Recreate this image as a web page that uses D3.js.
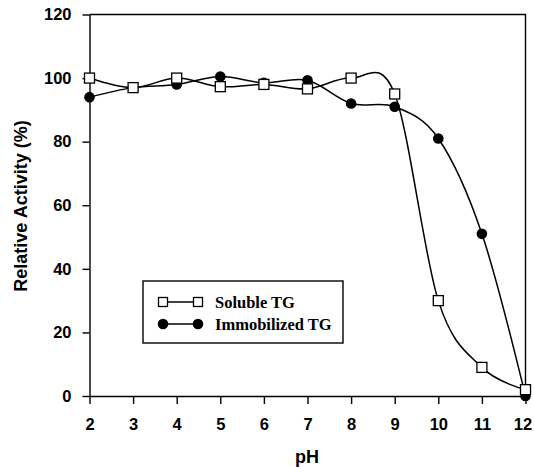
<!DOCTYPE html>
<html>
<head>
<meta charset="utf-8">
<script src="https://cdn.jsdelivr.net/npm/d3@7"></script>
<style>
  html, body { margin: 0; padding: 0; background: #fff; }
  svg { display: block; }
  .axis text { font-family: "Liberation Sans", Arial, sans-serif; font-size: 16.5px; font-weight: bold; fill: #000; }
  .axis path, .axis line { stroke: #000; stroke-width: 1.4; }
  .title { font-family: "Liberation Sans", Arial, sans-serif; font-size: 18px; font-weight: bold; fill: #000; }
</style>
</head>
<body>
<svg id="chart" width="534" height="467"></svg>
<script>
// pH values tested
const phValues = [2, 3, 4, 5, 6, 7, 8, 9, 10, 11, 12];
// Relative activity (%) of the free enzyme
const solubleTG = [100, 97, 100, 97.3, 98, 96.6, 100, 95, 30, 9, 2];
// Relative activity (%) of the immobilized enzyme
const immobilizedTG = [94, 97, 98, 100.5, 98.5, 99.3, 92, 91, 81, 51, 0];
// Axis ticks
const xTicks = [2, 3, 4, 5, 6, 7, 8, 9, 10, 11, 12];
const yTicks = [0, 20, 40, 60, 80, 100, 120];
const seriesNames = ["Soluble TG", "Immobilized TG"];

const svg = d3.select("#chart");
const plotLeft = 89.5, plotRight = 525.5, plotTop = 14.5, plotBottom = 396;

const x = d3.scaleLinear().domain([2, 12]).range([plotLeft, plotRight]);
const y = d3.scaleLinear().domain([0, 120]).range([plotBottom, plotTop]);

// Axes
const xAxis = svg.append("g").attr("class", "axis")
  .attr("transform", `translate(0,${plotBottom})`)
  .call(d3.axisBottom(x).tickValues(xTicks).tickSize(8).tickSizeOuter(0).tickPadding(14).tickFormat(d3.format("d")));
// keep the last label inside the page
xAxis.selectAll(".tick text").filter(d => d === 12).attr("dx", -3);

svg.append("g").attr("class", "axis")
  .attr("transform", `translate(${plotLeft},0)`)
  .call(d3.axisLeft(y).tickValues(yTicks).tickSize(7).tickSizeOuter(0).tickPadding(11).tickFormat(d3.format("d")));

// Frame on top and right
svg.append("path")
  .attr("d", `M${plotLeft},${plotTop}H${plotRight}V${plotBottom}`)
  .attr("fill", "none").attr("stroke", "#000").attr("stroke-width", 1.4);

// Axis titles
svg.append("text").attr("class", "title")
  .attr("x", 307).attr("y", 463)
  .attr("text-anchor", "middle")
  .text("pH");

svg.append("text").attr("class", "title")
  .attr("transform", "translate(27,206) rotate(-90)")
  .attr("text-anchor", "middle")
  .text("Relative Activity (%)");

// Smoothed lines
const line = d3.line()
  .x((d, i) => x(phValues[i]))
  .y(d => y(d))
  .curve(d3.curveCardinal.tension(0));

[immobilizedTG, solubleTG].forEach(series => {
  svg.append("path")
    .datum(series)
    .attr("d", line)
    .attr("fill", "none")
    .attr("stroke", "#000")
    .attr("stroke-width", 1.5);
});

// Markers: filled circles for immobilized, open squares for soluble
svg.append("g").selectAll("circle")
  .data(immobilizedTG)
  .join("circle")
  .attr("cx", (d, i) => x(phValues[i]))
  .attr("cy", d => y(d))
  .attr("r", 5.3)
  .attr("fill", "#000");

const sq = 10;
svg.append("g").selectAll("rect")
  .data(solubleTG)
  .join("rect")
  .attr("x", (d, i) => x(phValues[i]) - sq / 2)
  .attr("y", d => y(d) - sq / 2)
  .attr("width", sq).attr("height", sq)
  .attr("fill", "#fff")
  .attr("stroke", "#000")
  .attr("stroke-width", 1.3);

// Legend
const legend = svg.append("g");
legend.append("rect")
  .attr("x", 143).attr("y", 281).attr("width", 200).attr("height", 62)
  .attr("fill", "#fff").attr("stroke", "#000").attr("stroke-width", 1.4);

const rows = [{ name: seriesNames[0], cy: 302, kind: "square" },
              { name: seriesNames[1], cy: 324, kind: "circle" }];
rows.forEach(r => {
  legend.append("line")
    .attr("x1", 163).attr("x2", 198).attr("y1", r.cy).attr("y2", r.cy)
    .attr("stroke", "#000").attr("stroke-width", 1.5);
  [163, 198].forEach(cx => {
    if (r.kind === "square") {
      legend.append("rect")
        .attr("x", cx - 4.5).attr("y", r.cy - 4.5).attr("width", 9).attr("height", 9)
        .attr("fill", "#fff").attr("stroke", "#000").attr("stroke-width", 1.3);
    } else {
      legend.append("circle")
        .attr("cx", cx).attr("cy", r.cy).attr("r", 5.3).attr("fill", "#000");
    }
  });
  legend.append("text")
    .attr("x", 215).attr("y", r.cy + 5.5)
    .style("font-family", "Liberation Serif, Times New Roman, serif")
    .style("font-weight", "bold")
    .style("font-size", "16.5px")
    .text(r.name);
});
</script>
</body>
</html>
